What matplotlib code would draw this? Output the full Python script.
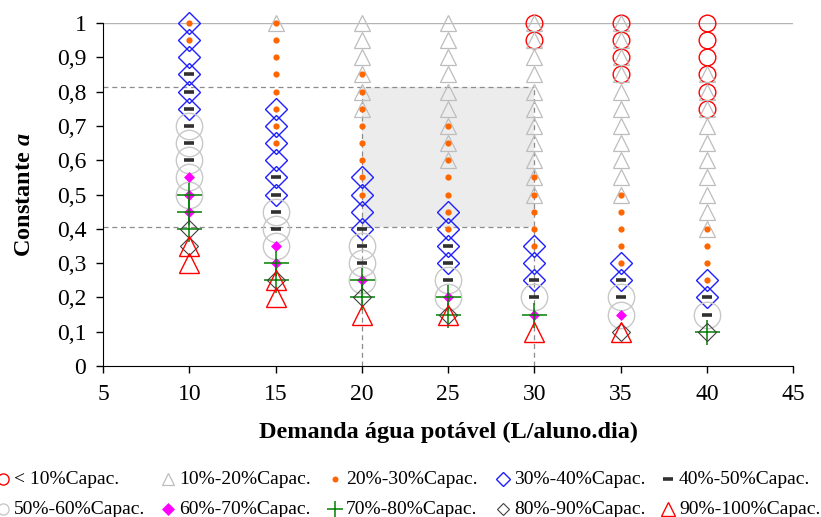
import matplotlib.pyplot as plt
from matplotlib.lines import Line2D
from matplotlib.patches import Rectangle
from matplotlib.ticker import FuncFormatter

plt.rcParams['font.family'] = ['Liberation Serif', 'DejaVu Serif']
plt.rcParams['mathtext.fontset'] = 'custom'
plt.rcParams['mathtext.it'] = 'Liberation Serif:italic:bold'
plt.rcParams['mathtext.rm'] = 'Liberation Serif:bold'

# demanda (L/aluno.dia) - one column of points per value
demand = [10, 15, 20, 25, 30, 35, 40]

# constante a for each capacity class, one list per demand value
cap_lt10 = [[], [], [], [], [1.0, 0.95], [1.0, 0.95, 0.9, 0.85],
            [1.0, 0.95, 0.9, 0.85, 0.8, 0.75]]
cap_10_20 = [[], [1.0],
             [1.0, 0.95, 0.9, 0.85, 0.8, 0.75],
             [1.0, 0.95, 0.9, 0.85, 0.8, 0.75, 0.7, 0.65, 0.6],
             [1.0, 0.95, 0.9, 0.85, 0.8, 0.75, 0.7, 0.65, 0.6, 0.55, 0.5],
             [1.0, 0.95, 0.9, 0.85, 0.8, 0.75, 0.7, 0.65, 0.6, 0.55, 0.5],
             [0.85, 0.8, 0.75, 0.7, 0.65, 0.6, 0.55, 0.5, 0.45, 0.4]]
cap_20_30 = [[1.0, 0.95],
             [1.0, 0.95, 0.9, 0.85, 0.8, 0.75, 0.7, 0.65],
             [0.85, 0.8, 0.75, 0.7, 0.65, 0.6, 0.55, 0.5],
             [0.7, 0.65, 0.6, 0.55, 0.5, 0.45, 0.4],
             [0.55, 0.5, 0.45, 0.4, 0.35],
             [0.5, 0.45, 0.4, 0.35, 0.3],
             [0.4, 0.35, 0.3, 0.25]]
cap_30_40 = [[1.0, 0.95, 0.9, 0.85, 0.8, 0.75],
             [0.75, 0.7, 0.65, 0.6, 0.55, 0.5],
             [0.55, 0.5, 0.45, 0.4],
             [0.45, 0.4, 0.35, 0.3],
             [0.35, 0.3, 0.25],
             [0.3, 0.25],
             [0.25, 0.2]]
cap_40_50 = [[0.85, 0.8, 0.75, 0.7, 0.65, 0.6],
             [0.55, 0.5, 0.45, 0.4],
             [0.4, 0.35, 0.3],
             [0.35, 0.3, 0.25],
             [0.25, 0.2],
             [0.25, 0.2],
             [0.2, 0.15]]
cap_50_60 = [[0.7, 0.65, 0.6, 0.55, 0.5],
             [0.45, 0.4, 0.35],
             [0.35, 0.3, 0.25],
             [0.25, 0.2],
             [0.2],
             [0.2, 0.15],
             [0.15]]
cap_60_70 = [[0.55, 0.5, 0.45], [0.35, 0.3], [0.25], [0.2], [0.15], [0.15], []]
cap_70_80 = [[0.5, 0.45, 0.4], [0.3, 0.25], [0.25, 0.2], [0.2, 0.15], [0.15], [], [0.1]]
cap_80_90 = [[0.4, 0.35], [0.25], [0.2], [0.15], [], [0.1], [0.1]]
cap_90_100 = [[0.35, 0.3], [0.25, 0.2], [0.15], [0.15], [0.1], [0.1], []]

labels = ['< 10%Capac.', '10%-20%Capac.', '20%-30%Capac.', '30%-40%Capac.',
          '40%-50%Capac.', '50%-60%Capac.', '60%-70%Capac.', '70%-80%Capac.',
          '80%-90%Capac.', '90%-100%Capac.']

# shaded recommended region
d_lo, d_hi = 20, 30
a_lo, a_hi = 0.406, 0.814

series = [cap_lt10, cap_10_20, cap_20_30, cap_30_40, cap_40_50,
          cap_50_60, cap_60_70, cap_70_80, cap_80_90, cap_90_100]

# marker style per class
styles = [
    dict(marker='o', ms=12, mfc='none', mec='#ff0000', mew=1.0),
    dict(marker='^', ms=11.5, mfc='none', mec='#bdbdbd', mew=0.9),
    dict(marker='o', ms=4.5, mfc='#ff6600', mec='#ff6600', mew=0),
    dict(marker='D', ms=11.5, mfc='none', mec='#2020ff', mew=1.0),
    dict(marker='_', ms=7.5, mfc='#303030', mec='#303030', mew=2.6),
    dict(marker='o', ms=19, mfc='none', mec='#c8c8c8', mew=1.0),
    dict(marker='D', ms=5.2, mfc='#ff00ff', mec='#ff00ff', mew=0.5),
    dict(marker='+', ms=18, mfc='none', mec='#008000', mew=1.1),
    dict(marker='D', ms=9, mfc='none', mec='#404040', mew=0.8),
    dict(marker='^', ms=14.5, mfc='none', mec='#ff0000', mew=1.0),
]
legend_ms = [8, 9, 4.3, 7.5, 7.5, 8, 6, 12, 6.5, 9.5]

fig = plt.figure(figsize=(8.21, 5.17), dpi=100)
ax = fig.add_axes([0.1255, 0.292, 0.8405, 0.6635])

ax.add_patch(Rectangle((d_lo, a_lo), d_hi - d_lo, a_hi - a_lo,
                       facecolor='#ececec', edgecolor='none', zorder=0))
dash = dict(color='#8c8c8c', lw=0.9, ls=(0, (4, 3)), zorder=1)
ax.plot([5, d_hi], [a_hi, a_hi], **dash)
ax.plot([5, d_hi], [a_lo, a_lo], **dash)
ax.plot([d_lo, d_lo], [0, a_hi], **dash)
ax.plot([d_hi, d_hi], [0, a_hi], **dash)
ax.axhline(1.0, color='#b4b4b4', lw=1, zorder=1)

for data, st in zip(series, styles):
    xs = [d for d, vals in zip(demand, data) for _ in vals]
    ys = [v for vals in data for v in vals]
    ax.plot(xs, ys, ls='none', zorder=3, clip_on=False, **st)

ax.set_xlim(5, 45)
ax.set_ylim(0, 1)
ax.set_xticks(range(5, 50, 5))
ax.set_yticks([i / 10 for i in range(11)])
ax.yaxis.set_major_formatter(FuncFormatter(lambda v, p: f'{v:g}'.replace('.', ',')))
ax.tick_params(direction='out', length=5, width=1, labelsize=17)
ax.tick_params(axis='x', pad=8)
ax.tick_params(axis='y', pad=7)
ax.spines['top'].set_visible(False)
ax.spines['right'].set_visible(False)
ax.set_xlabel('Demanda água potável (L/aluno.dia)', fontsize=17.5,
              fontweight='bold', labelpad=12)
ax.set_ylabel('Constante $a$', fontsize=17.5, fontweight='bold', labelpad=16)

# legend laid out in two rows of five below the chart
col_px = [3, 168, 335, 503, 668]
row_px = [479, 509]
W, H = 821, 517
for i, (lab, st, lms) in enumerate(zip(labels, styles, legend_ms)):
    r, c = divmod(i, 5)
    fx = col_px[c] / W
    fy = 1 - row_px[r] / H
    s = dict(st)
    s['ms'] = lms
    fig.add_artist(Line2D([fx], [fy], ls='none', transform=fig.transFigure, **s))
    fig.text(fx + 11 / W, fy, lab, fontsize=14, va='center', ha='left')

fig.savefig('out.png', dpi=100)
